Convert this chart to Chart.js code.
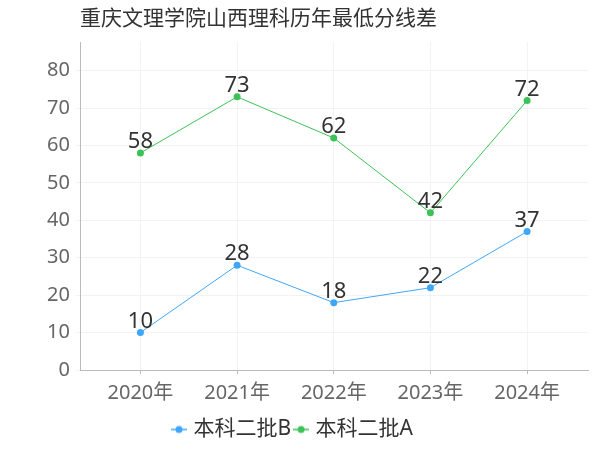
<!DOCTYPE html>
<html>
<head>
<meta charset="utf-8">
<script src="https://cdn.jsdelivr.net/npm/chart.js@4/dist/chart.umd.min.js"></script>
<style>
html,body{margin:0;padding:0;background:#fff;}
#wrap{width:600px;height:450px;}
</style>
</head>
<body>
<div id="wrap"><canvas id="c" width="600" height="450"></canvas></div>
<script>
const titleText = '重庆文理学院山西理科历年最低分线差';
const years = ['2020年', '2021年', '2022年', '2023年', '2024年'];
const seriesNames = ['本科二批B', '本科二批A'];
const seriesB = [10, 28, 18, 22, 37];
const seriesA = [58, 73, 62, 42, 72];
const yTicks = [0, 10, 20, 30, 40, 50, 60, 70, 80];

const colorB = '#3fa7fb';
const colorA = '#3cc257';
const FONT = '"Noto Sans", "Noto Sans CJK SC", sans-serif';

function legendMarker(color) {
  const cv = document.createElement('canvas');
  cv.width = 16; cv.height = 10;
  const g = cv.getContext('2d');
  g.strokeStyle = color; g.lineWidth = 1.5;
  g.beginPath(); g.moveTo(0, 5); g.lineTo(16, 5); g.stroke();
  g.fillStyle = color;
  g.beginPath(); g.arc(8, 5, 3.5, 0, Math.PI * 2); g.fill();
  return cv;
}

const valueLabels = {
  id: 'valueLabels',
  afterDatasetsDraw(chart) {
    const ctx = chart.ctx;
    ctx.save();
    ctx.font = '22px ' + FONT;
    ctx.fillStyle = '#333';
    ctx.textAlign = 'center';
    ctx.textBaseline = 'alphabetic';
    chart.data.datasets.forEach((ds, i) => {
      const meta = chart.getDatasetMeta(i);
      meta.data.forEach((pt, j) => {
        ctx.fillText(String(ds.data[j].y), pt.x, pt.y - 5);
      });
    });
    ctx.restore();
  }
};

const toPoints = arr => arr.map((v, i) => ({x: i, y: v}));

new Chart(document.getElementById('c'), {
  type: 'line',
  data: {
    datasets: [
      {label: seriesNames[0], data: toPoints(seriesB), borderColor: colorB, backgroundColor: colorB,
       borderWidth: 1, pointRadius: 3.5, pointBorderWidth: 0, pointStyle: 'circle', tension: 0},
      {label: seriesNames[1], data: toPoints(seriesA), borderColor: colorA, backgroundColor: colorA,
       borderWidth: 1, pointRadius: 3.5, pointBorderWidth: 0, pointStyle: 'circle', tension: 0}
    ]
  },
  options: {
    responsive: false,
    animation: false,
    layout: {padding: {left: 0, right: 12, top: 0, bottom: 0}},
    scales: {
      x: {
        type: 'linear',
        min: -0.625,
        max: 4.63,
        afterBuildTicks(scale) { scale.ticks = years.map((_, i) => ({value: i})); },
        afterFit(scale) { scale.height = 43; },
        ticks: {
          color: '#666',
          font: {size: 20, family: FONT},
          padding: 7,
          callback: v => years[v]
        },
        grid: {color: '#f3f3f3', tickColor: '#bbb', tickLength: 4, drawOnChartArea: true},
        border: {color: '#bbb', width: 1}
      },
      y: {
        min: 0,
        max: 87.6,
        afterBuildTicks(scale) { scale.ticks = yTicks.map(v => ({value: v})); },
        afterFit(scale) { scale.width = 80; },
        ticks: {
          color: '#666',
          font: {size: 20, family: FONT},
          padding: 6
        },
        grid: {color: '#f3f3f3', tickColor: '#f3f3f3', tickLength: 4},
        border: {color: '#bbb', width: 1}
      }
    },
    plugins: {
      title: {
        display: true,
        text: titleText,
        fullSize: false,
        align: 'start',
        color: '#333',
        font: {size: 21, family: FONT, weight: 'normal'},
        padding: {top: 6, bottom: 11}
      },
      legend: {
        position: 'bottom',
        labels: {
          color: '#333',
          font: {size: 21, family: FONT},
          usePointStyle: true,
          pointStyleWidth: 8,
          padding: 6,
          generateLabels(chart) {
            return chart.data.datasets.map((ds, i) => ({
              text: ds.label,
              pointStyle: legendMarker(ds.borderColor),
              fontColor: '#333',
              datasetIndex: i,
              hidden: false,
              lineWidth: 0
            }));
          }
        }
      },
      tooltip: {enabled: false}
    }
  },
  plugins: [valueLabels]
});
</script>
</body>
</html>
